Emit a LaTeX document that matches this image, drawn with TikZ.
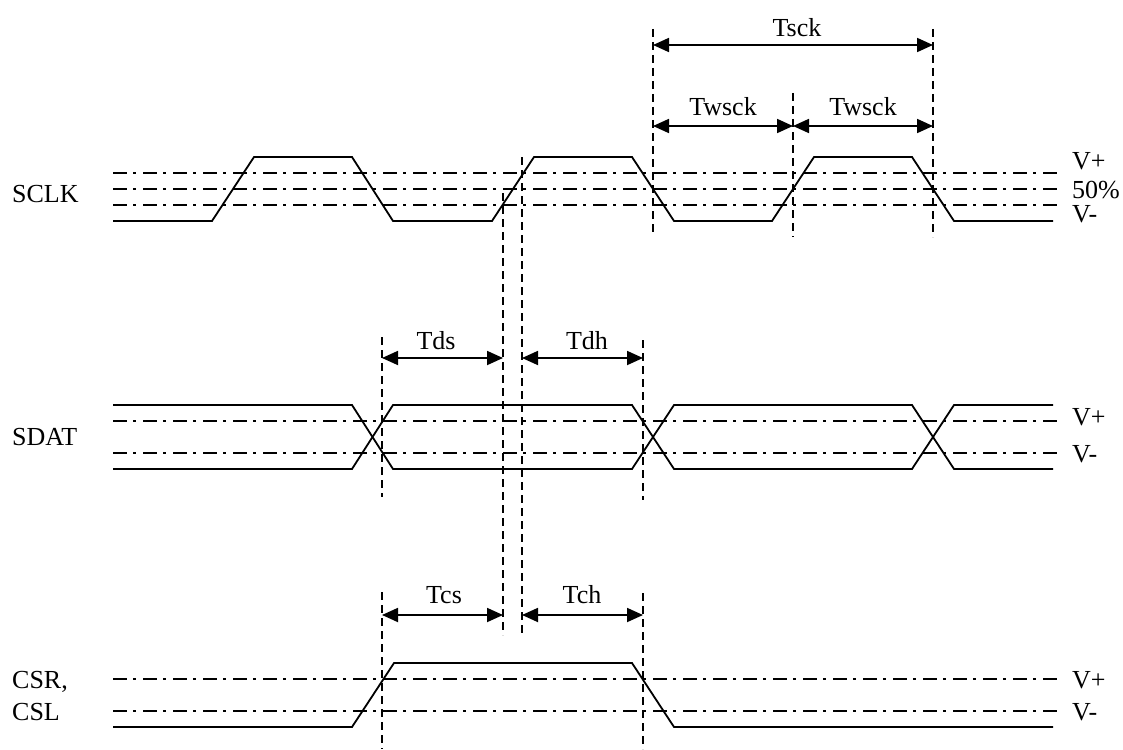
\documentclass[tikz,border=0pt]{standalone}
\usepackage{fontspec}
\setmainfont{Liberation Serif}
\usetikzlibrary{arrows.meta}
\begin{document}
\begin{tikzpicture}[x=1pt,y=-1pt,
  wave/.style={line width=1.8pt,line join=miter},
  refline/.style={line width=1.8pt,dash pattern=on 14pt off 6pt on 3pt off 7pt},
  guide/.style={line width=1.5pt,dash pattern=on 8pt off 5pt},
  dimarrow/.style={line width=1.8pt,{Triangle[length=16pt,width=14pt]}-{Triangle[length=16pt,width=14pt]}},
  lbl/.style={font=\fontsize{26}{30}\selectfont,inner sep=0pt,anchor=base},
  sig/.style={font=\fontsize{26}{30}\selectfont,inner sep=0pt,anchor=base west}]
\useasboundingbox (0,0) rectangle (1123,749);

% ---------- reference (dash-dot) levels ----------
\foreach \yy in {173,189,205,421,453,679,711}
  \draw[refline] (113,\yy) -- (1057,\yy);

% ---------- SCLK ----------
\draw[wave] (113,221) -- (212,221) -- (254,157) -- (352,157) -- (393,221)
  -- (492,221) -- (534,157) -- (632,157) -- (674,221) -- (772,221)
  -- (814,157) -- (912,157) -- (954,221) -- (1053,221);

% ---------- SDAT ----------
\draw[wave] (113,405) -- (352,405) -- (393,469) -- (632,469) -- (674,405)
  -- (912,405) -- (954,469) -- (1053,469);
\draw[wave] (113,469) -- (352,469) -- (393,405) -- (632,405) -- (674,469)
  -- (912,469) -- (954,405) -- (1053,405);

% ---------- CSR, CSL ----------
\draw[wave] (113,727) -- (352,727) -- (394,663) -- (632,663) -- (674,727) -- (1053,727);

% ---------- guide coordinates ----------
\coordinate (g653t) at (653,29);  \coordinate (g653b) at (653,232);
\coordinate (g933t) at (933,29);  \coordinate (g933b) at (933,237);
\coordinate (g793t) at (793,93);  \coordinate (g793b) at (793,237);
\coordinate (g503t) at (503,193); \coordinate (g503b) at (503,635);
\coordinate (g522t) at (522,157); \coordinate (g522b) at (522,635);
\coordinate (g382at) at (382,337); \coordinate (g382ab) at (382,497);
\coordinate (g643at) at (643,340); \coordinate (g643ab) at (643,500);
\coordinate (g382bt) at (382,592); \coordinate (g382bb) at (382,749);
\coordinate (g643bt) at (643,593); \coordinate (g643bb) at (643,749);

\draw[guide] (g653t) -- (g653b);
\draw[guide] (g933t) -- (g933b);
\draw[guide] (g793t) -- (g793b);
\draw[guide] (g503t) -- (g503b);
\draw[guide] (g522t) -- (g522b);
\draw[guide] (g382at) -- (g382ab);
\draw[guide] (g643at) -- (g643ab);
\draw[guide] (g382bt) -- (g382bb);
\draw[guide] (g643bt) -- (g643bb);

% ---------- dimension arrows ----------
\coordinate (tsckL) at (653,45);  \coordinate (tsckR) at (933,45);
\coordinate (tw1L) at (653,126);  \coordinate (tw1R) at (793,126);
\coordinate (tw2L) at (793,126);  \coordinate (tw2R) at (933,126);
\coordinate (tdsL) at (382,358);  \coordinate (tdsR) at (503,358);
\coordinate (tdhL) at (522,358);  \coordinate (tdhR) at (643,358);
\coordinate (tcsL) at (382,615);  \coordinate (tcsR) at (503,615);
\coordinate (tchL) at (522,615);  \coordinate (tchR) at (643,615);

\draw[dimarrow] (tsckL) -- (tsckR);
\draw[dimarrow] (tw1L) -- (tw1R);
\draw[dimarrow] (tw2L) -- (tw2R);
\draw[dimarrow] (tdsL) -- (tdsR);
\draw[dimarrow] (tdhL) -- (tdhR);
\draw[dimarrow] (tcsL) -- (tcsR);
\draw[dimarrow] (tchL) -- (tchR);

\node[lbl] (tTsck) at (797,37) {Tsck};
\node[lbl] (tTw1) at (723,115) {Twsck};
\node[lbl] (tTw2) at (863,115) {Twsck};
\node[lbl] (tTds) at (436,349) {Tds};
\node[lbl] (tTdh) at (587,349) {Tdh};
\node[lbl] (tTcs) at (444,603) {Tcs};
\node[lbl] (tTch) at (582,603) {Tch};

% ---------- signal names ----------
\node[sig] (nSCLK) at (12,202) {SCLK};
\node[sig] (nSDAT) at (12,445) {SDAT};
\node[sig] (nCSR) at (12,688) {CSR,};
\node[sig] (nCSL) at (12,720) {CSL};

% ---------- level labels ----------
\node[sig] (vp1) at (1072,169) {V+};
\node[sig] (v50) at (1072,198) {50\%};
\node[sig] (vm1) at (1072,222) {V-};
\node[sig] (vp2) at (1072,425) {V+};
\node[sig] (vm2) at (1072,462) {V-};
\node[sig] (vp3) at (1072,688) {V+};
\node[sig] (vm3) at (1072,720) {V-};
\end{tikzpicture}
\end{document}
